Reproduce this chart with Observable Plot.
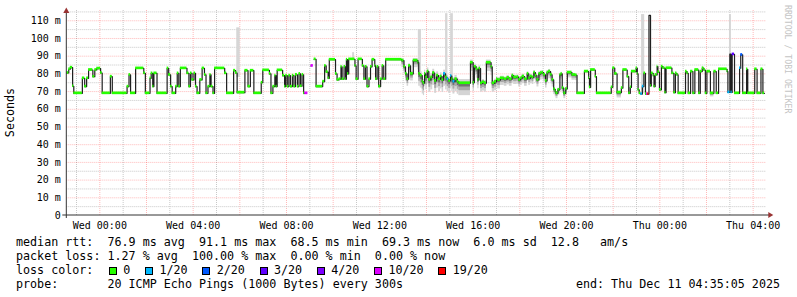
<!DOCTYPE html>
<html><head><meta charset="utf-8">
<script src="https://cdn.jsdelivr.net/npm/d3@7"></script>
<script src="https://cdn.jsdelivr.net/npm/@observablehq/plot@0.6"></script>
<style>
body{margin:0;background:#fff;}
#wrap{position:relative;width:797px;height:297px;font-family:"DejaVu Sans Mono",monospace;color:#000;overflow:hidden;}
#wrap svg{display:block;position:absolute;left:0;top:0;}
.ln{position:absolute;left:16px;font-size:11.7px;line-height:14px;white-space:pre;}
.sq{display:inline-block;width:6px;height:6px;border:1px solid #000;vertical-align:-1px;margin-right:6.3px;}
.it{margin-right:14.8px;}
#endtxt{position:absolute;right:17px;font-size:11.7px;line-height:14px;white-space:pre;}
</style></head><body><div id="wrap"></div>
<script>
// ---------- data ----------
const startTime = "2025-12-09T22:35:05Z";
const spanMinutes = 1800;
const dataEndMinute = 1794;
// median RTT (ms) change points: minutes since start
const medMinutes = [0,5,9,15,18,40,46,51,56,67,72,77,87,91,112,117,155,160,164,177,198,202,214,217,221,224,232,258,262,267,271,280,284,288,292,309,314,318,322,327,331,335,342,348,354,358,363,368,371,376,380,406,411,429,434,438,458,466,472,481,500,504,521,525,530,535,538,541,555,560,563,567,571,575,580,584,588,593,597,601,605,609,612,620,628,634,636,641,658,663,667,672,675,691,695,700,705,708,713,717,719,722,725,741,744,749,760,764,768,772,777,781,785,792,794,798,802,807,811,815,820,862,867,871,875,879,884,891,903,905,909,914,917,920,923,927,931,936,941,946,951,956,961,965,969,974,978,982,987,990,993,998,1004,1008,1038,1045,1048,1053,1057,1060,1064,1069,1074,1079,1091,1094,1100,1105,1108,1115,1125,1132,1138,1145,1149,1158,1162,1167,1171,1177,1184,1188,1192,1197,1201,1205,1209,1214,1218,1222,1226,1231,1235,1239,1244,1248,1252,1256,1258,1263,1268,1271,1274,1278,1283,1287,1299,1308,1312,1331,1342,1344,1347,1359,1362,1400,1404,1409,1415,1426,1430,1441,1445,1449,1452,1464,1467,1469,1472,1476,1480,1484,1488,1491,1494,1497,1501,1503,1508,1510,1513,1518,1520,1524,1529,1533,1538,1541,1556,1561,1565,1569,1572,1591,1595,1598,1604,1610,1615,1625,1629,1634,1638,1642,1646,1655,1664,1670,1676,1698,1700,1705,1708,1711,1717,1730,1733,1738,1748,1751,1769,1775,1785,1790];
const medMs = [80.5,82.6,83.5,73,69,77.5,72.8,77.5,82.2,78.4,82.2,83,80.5,69,78.4,69,72.8,79.4,69,83.1,80.3,69,77.5,80.3,72.8,80.3,69,83.1,79.4,72.8,69,72.8,80.3,72.8,83.1,80.3,72.8,80.3,76.6,80.3,72.8,69,76.6,83.1,79.4,69,72.8,79.4,72.8,69,83.1,80.3,69,81.8,80.5,69.4,81.8,72.8,81.8,69,75,82,80,69,72.8,79,72.8,82,79,72.8,79,72.8,79,72.8,79,72.8,79.5,72.8,80,73,79.5,69,69,null,84.5,null,88.2,72.8,75.6,84.5,81,77.5,88,80,76.6,77,84,77,84,77,88,80,88.2,84.5,77,88.2,84.5,77,84,72.8,77,84,88,84.5,77,84,72.8,77,84.5,77,88,87.5,84,80,77,84.5,80,87.5,86.3,80,79,75.6,74.7,80,78,81.3,76.6,78,80.5,76,79,77,78.5,76.5,80,78,77,76,78.8,77,75.6,77,75.5,74.7,86.3,75,84,82.6,76.6,83,74.7,75.3,74.7,86.3,84,74.7,75.5,77,76.5,77.5,77,77.8,77,79,78,78.2,76.6,77.5,78.5,77,80,77.5,78.5,78,80.7,79,76.6,80,80.5,80.7,79.4,76,80.7,81.3,79.5,76.6,71.3,70,69,71,79.4,80,72,69,71.5,80.7,79.4,79.2,69,81.3,77.5,72.4,82.2,78.4,69,72.4,83.2,80,69.4,72,82.2,78.4,69,72.4,81.3,83.2,80,71,69,68.6,72.8,80.3,68.6,68.6,68.6,113,73.2,80.3,79,72.8,79.4,84.1,81,71,84.1,83.2,69.4,83.2,80.3,69.4,80.3,79.4,69,81.3,80.3,69,81.3,69,82.2,69,81.3,83.2,82.2,69,81.3,69,81.3,69,82.6,81.3,69.5,91.2,69.5,91,69,83.2,90.7,69,82.6,69,82.6,69,82.6,69];
// lost pings (of 20) at change points; unlisted = 0, null = not shaded
const lossMinutes = [612,628,969,978,987,993,1476,1480,1491,1494,1497,1700,1705,1708,1711,1730,1733];
const lossCounts  = [10,10,1,1,1,1,1,1,10,19,null,1,null,1,3,1,2];
// smoke: tall light columns [from, to, low ms, high ms]
const smokeSpikes = [[437,446,78,106],[735,740,88,92],[904,912,80,105],[974,980,74,114],[987,994,74,114],[1478,1486,69,113.5],[1704,1709,69,113.5]];
// smoke below the median [from, to, depth ms]
const smokeBands = [[860,905,4],[905,1010,7],[1010,1110,5],[1110,1250,4],[1250,1310,3],[1415,1426,3],[1655,1664,2]];
const lossLabels = ["0","1/20","2/20","3/20","4/20","10/20","19/20"];
const lossColors = ["#26ff00","#00b8ff","#0059ff","#5e00ff","#7e00ff","#dd00ff","#ff0000"];
const lossThresholds = [1,2,3,4,10,19];
const yTicks = [0,10,20,30,40,50,60,70,80,90,100,110];
const yTickLabels = ["0","10 m","20 m","30 m","40 m","50 m","60 m","70 m","80 m","90 m","100 m","110 m"];
const xTickTimes = ["2025-12-10T00:00Z","2025-12-10T04:00Z","2025-12-10T08:00Z","2025-12-10T12:00Z","2025-12-10T16:00Z","2025-12-10T20:00Z","2025-12-11T00:00Z","2025-12-11T04:00Z"];
const xTickLabels = ["Wed 00:00","Wed 04:00","Wed 08:00","Wed 12:00","Wed 16:00","Wed 20:00","Thu 00:00","Thu 04:00"];
const rttStats = ["76.9 ms avg","91.1 ms max","68.5 ms min","69.3 ms now","6.0 ms sd","12.8   am/s"];
const lossStats = ["1.27 % avg","100.00 % max","0.00 % min","0.00 % now"];
const probeText = "20 ICMP Echo Pings (1000 Bytes) every 300s";
const endText = "end: Thu Dec 11 04:35:05 2025";
const yLabel = "Seconds";
const watermark = "RRDTOOL / TOBI OETIKER";

// ---------- build ----------
const t0 = new Date(startTime).getTime();
const T = m => new Date(t0 + m * 60000);
const lossMap = new Map(lossMinutes.map((m, i) => [m, lossCounts[i]]));
const lossColor = d3.scaleThreshold().domain(lossThresholds).range(lossColors);
const pts = medMinutes.map((m, i) => ({
  m, t: T(m), t2: T(i + 1 < medMinutes.length ? medMinutes[i + 1] : dataEndMinute),
  v: medMs[i], loss: lossMap.has(m) ? lossMap.get(m) : 0
}));
const linePts = pts.concat([{t: T(dataEndMinute), v: medMs[medMs.length - 1]}]);
const shaded = pts.filter(d => d.v != null && d.loss != null);
const bandPts = [];
for (const [a, b, dep] of smokeBands) for (const p of pts) if (p.v != null && p.m >= a && p.m < b) bandPts.push({...p, dep});
const spikes = smokeSpikes.map(([a, b, lo, hi]) => ({t: T(a), t2: T(b), lo, hi}));

const hours = d3.utcHour.range(T(0), T(spanMinutes));
const minorX = hours.filter(h => h.getUTCHours() % 2 === 1);
const majorX = hours.filter(h => h.getUTCHours() % 2 === 0);
const majorY = d3.range(10, 111, 10);
const minorY = d3.range(5, 116, 10);
const xt = xTickTimes.map(s => new Date(s));

const chart = Plot.plot({
  width: 797, height: 232,
  marginLeft: 66.3, marginRight: 30.7, marginTop: 10, marginBottom: 17,
  x: {type: "utc", domain: [T(0), T(spanMinutes)]},
  y: {domain: [0, 115.8]},
  color: {type: "identity"},
  style: {fontFamily: "DejaVu Sans Mono", fontSize: "10px", color: "#000", overflow: "visible", background: "transparent"},
  marks: [
    Plot.ruleX(minorX, {stroke: "#c8c8c8", strokeDasharray: "1,1"}),
    Plot.ruleX(majorX, {stroke: "#ff0000", strokeOpacity: 0.28, strokeDasharray: "1,1"}),
    Plot.ruleY(minorY, {stroke: "#c8c8c8", strokeDasharray: "1,1"}),
    Plot.ruleY(majorY, {stroke: "#ff0000", strokeOpacity: 0.28, strokeDasharray: "1,1"}),
    Plot.rect(spikes, {x1: "t", x2: "t2", y1: "lo", y2: "hi", fill: "#d6d6d6"}),
    Plot.rect(bandPts, {x1: "t", x2: "t2", y1: d => d.v - d.dep, y2: d => d.v + d.dep * 0.3, fill: "#d4d4d4"}),
    Plot.rect(bandPts, {x1: "t", x2: "t2", y1: d => d.v - d.dep * 0.6, y2: d => d.v + d.dep * 0.1, fill: "#a8a8a8"}),
    Plot.rect(bandPts, {x1: "t", x2: "t2", y1: d => d.v - d.dep * 0.3, y2: d => d.v, fill: "#707070"}),
    Plot.line(linePts, {x: "t", y: "v", curve: "step-after", stroke: "#202020", strokeWidth: 1.2}),
    Plot.rect(shaded, {x1: "t", x2: "t2", y1: d => d.v - 0.75, y2: d => d.v + 0.75, fill: d => lossColor(d.loss)}),
    Plot.axisY({ticks: yTicks, tickFormat: (d, i) => yTickLabels[yTicks.indexOf(d)], tickSize: 0, tickPadding: 6, label: null}),
    Plot.axisX({ticks: xt, tickFormat: d => xTickLabels[xt.findIndex(e => +e === +d)], tickSize: 0, tickPadding: 6, label: null})
  ]
});

const wrap = document.getElementById("wrap");
wrap.appendChild(chart);
const svg = d3.select(chart);
const [xa, xb] = chart.scale("x").range;
const [yb, ya] = chart.scale("y").range;
// axes lines + arrows
svg.append("line").attr("x1", xa - 4).attr("x2", xb + 3).attr("y1", yb).attr("y2", yb).attr("stroke", "#333").attr("stroke-width", 1);
svg.append("line").attr("x1", xa).attr("x2", xa).attr("y1", yb + 3).attr("y2", ya).attr("stroke", "#333").attr("stroke-width", 1);
svg.append("path").attr("d", `M${xb + 2},${yb - 3}L${xb + 7},${yb}L${xb + 2},${yb + 3}Z`).attr("fill", "#993333");
svg.append("path").attr("d", `M${xa - 3},${ya + 3}L${xa},${ya - 2.5}L${xa + 3},${ya + 3}Z`).attr("fill", "#993333");
// y label
svg.append("text").attr("transform", `translate(13.5,${(ya + yb) / 2}) rotate(-90)`).attr("text-anchor", "middle")
  .attr("font-size", "11.7px").attr("font-family", "DejaVu Sans Mono").attr("fill", "#000").text(yLabel);
// watermark
svg.append("text").attr("transform", `translate(785,5) rotate(90)`).attr("text-anchor", "start")
  .attr("font-size", "8.2px").attr("font-family", "DejaVu Sans Mono").attr("fill", "#c4c4c4").text(watermark);

// ---------- legend text ----------
function line(top, html) { const d = document.createElement("div"); d.className = "ln"; d.style.top = top + "px"; d.innerHTML = html; wrap.appendChild(d); return d; }
line(235, "median rtt:  " + rttStats.join("  "));
line(249, "packet loss: " + lossStats.join("  "));
line(263, "loss color:  <span style=\"margin-left:1.5px\"></span>" + lossLabels.map((l, i) => `<span class="sq" style="background:${lossColors[i]}"></span><span class="it">${l}</span>`).join(""));
line(277, "probe:       " + probeText);
const e = document.createElement("div"); e.id = "endtxt"; e.style.top = "277px"; e.textContent = endText; wrap.appendChild(e);
</script>
</body></html>
